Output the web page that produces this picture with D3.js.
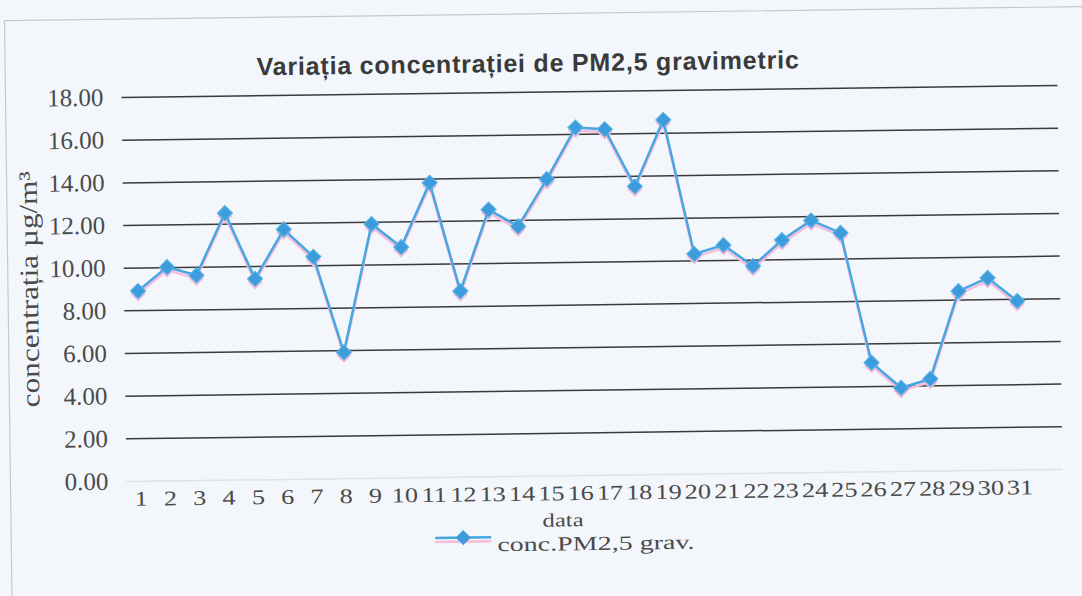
<!DOCTYPE html>
<html>
<head>
<meta charset="utf-8">
<script src="https://cdn.jsdelivr.net/npm/d3@7"></script>
<style>
  html, body { margin: 0; padding: 0; background: #f3f7fb; }
  svg { display: block; }
</style>
</head>
<body>
<div id="chart"></div>
<script>
// values
const days = d3.range(1, 32).map(String);
const pmValues = [8.9, 10.0, 9.6, 12.5, 9.4, 11.7, 10.4, 5.9, 11.9, 10.8, 13.8,
                  8.7, 12.5, 11.7, 13.9, 16.3, 16.2, 13.5, 16.6, 10.3, 10.7, 9.7,
                  10.9, 11.8, 11.2, 5.1, 3.9, 4.3, 8.4, 9.0, 7.9];
const yTicks = [0, 2, 4, 6, 8, 10, 12, 14, 16, 18];
const title = "Variația concentrației de PM2,5 gravimetric";
const seriesName = "conc.PM2,5 grav.";

const width = 1082, height = 596;
const blue = "#45a6e2", pink = "#f5bcdc";
const serif = "Liberation Serif, Times New Roman, serif";
const textColor = "#4a4a4a";

const svg = d3.select("#chart").append("svg")
    .attr("width", width)
    .attr("height", height);

// the scan is slightly tilted, so everything sits in a rotated group
const g = svg.append("g").attr("transform", "rotate(-0.74, 127, 290)");

g.append("rect")
    .attr("x", 8).attr("y", 19)
    .attr("width", 1090).attr("height", 590)
    .attr("fill", "#f3f7fb")
    .attr("stroke", "#c6c9cc")
    .attr("stroke-width", 1.2);

const x = d3.scalePoint().domain(days).range([138, 1017]);
const y = d3.scaleLinear().domain([0, 18]).range([481, 97]);

// y axis + gridlines
const yAxis = g.append("g")
    .attr("transform", "translate(124,0)")
    .call(d3.axisLeft(y).tickValues(yTicks).tickFormat(d3.format(".2f"))
        .tickSize(-936).tickPadding(18));
yAxis.select(".domain").remove();
yAxis.selectAll(".tick line")
    .attr("stroke", d => d === 0 ? "#dfe3e8" : "#3a3a3a")
    .attr("stroke-width", 1.5);
yAxis.selectAll(".tick text")
    .attr("font-family", serif)
    .attr("font-size", 25)
    .attr("fill", textColor);

// x axis labels (the scan stretches them sideways)
const xAxis = g.append("g")
    .attr("transform", `translate(0,${y(0)})`)
    .call(d3.axisBottom(x).tickSize(0).tickPadding(10));
xAxis.select(".domain").remove();
xAxis.selectAll(".tick text")
    .attr("font-family", serif)
    .attr("font-size", 21)
    .attr("transform", "scale(1.25,1)")
    .attr("x", 0)
    .attr("fill", textColor);

// title and axis titles
g.append("text")
    .attr("x", 531).attr("y", 77)
    .attr("text-anchor", "middle")
    .attr("font-family", "Liberation Sans, Arial, sans-serif")
    .attr("font-weight", "bold")
    .attr("font-size", 25)
    .attr("letter-spacing", 0.8)
    .attr("fill", "#3a3a3a")
    .text(title);

g.append("text")
    .attr("transform", "translate(38,288) rotate(-90) scale(1.2,1)")
    .attr("text-anchor", "middle")
    .attr("font-family", serif)
    .attr("font-size", 26)
    .attr("fill", textColor)
    .text("concentrația µg/m³");

g.append("text")
    .attr("transform", "translate(560,532) scale(1.3,1)")
    .attr("text-anchor", "middle")
    .attr("font-family", serif)
    .attr("font-size", 19)
    .attr("fill", textColor)
    .text("data");

// series: pink misregistration shadow under the blue line
const line = d3.line().x((d, i) => x(days[i])).y(d => y(d));
const diamond = d3.symbol(d3.symbolSquare, 115);

g.append("path")
    .datum(pmValues)
    .attr("d", line)
    .attr("transform", "translate(0,3)")
    .attr("fill", "none")
    .attr("stroke", pink)
    .attr("stroke-width", 2.5);

g.selectAll(".shadow")
    .data(pmValues)
    .join("path")
    .attr("class", "shadow")
    .attr("d", diamond)
    .attr("transform", (d, i) => `translate(${x(days[i])},${y(d) + 3}) rotate(45)`)
    .attr("fill", pink);

g.append("path")
    .datum(pmValues)
    .attr("d", line)
    .attr("fill", "none")
    .attr("stroke", blue)
    .attr("stroke-width", 2.5);

g.selectAll(".marker")
    .data(pmValues)
    .join("path")
    .attr("class", "marker")
    .attr("d", diamond)
    .attr("transform", (d, i) => `translate(${x(days[i])},${y(d)}) rotate(45)`)
    .attr("fill", "#3d9cdb")
    .attr("stroke", "#5bb4e8")
    .attr("stroke-width", 1);

// legend
const lg = g.append("g").attr("transform", "translate(432,542)");
lg.append("line").attr("x1", 0).attr("x2", 56).attr("y1", 4).attr("y2", 4)
    .attr("stroke", pink).attr("stroke-width", 2.5);
lg.append("line").attr("x1", 0).attr("x2", 56).attr("y1", 0).attr("y2", 0)
    .attr("stroke", blue).attr("stroke-width", 2.5);
lg.append("path").attr("d", diamond).attr("transform", "translate(28,0) rotate(45)")
    .attr("fill", "#3d9cdb");
lg.append("text")
    .attr("transform", "translate(62,14) scale(1.4,1)")
    .attr("font-family", serif)
    .attr("font-size", 20)
    .attr("fill", textColor)
    .text(seriesName);
</script>
</body>
</html>
